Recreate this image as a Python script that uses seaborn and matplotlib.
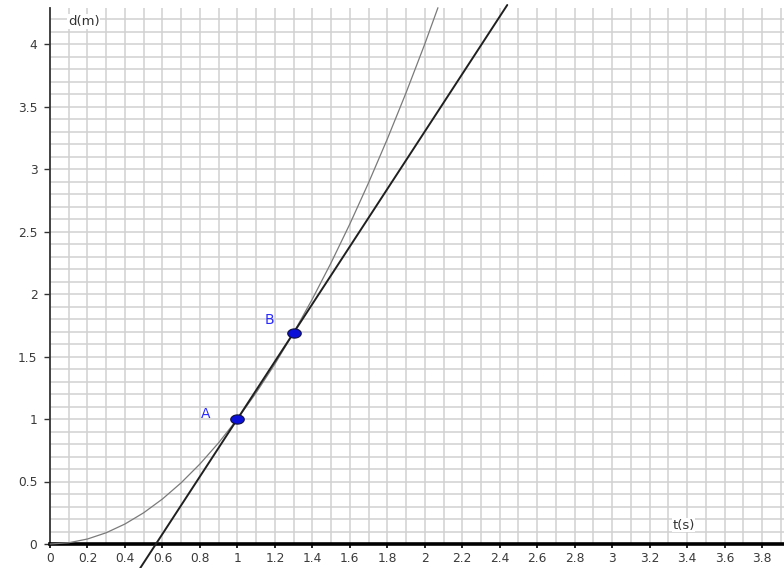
import numpy as np
import matplotlib
matplotlib.use("Agg")
import matplotlib.pyplot as plt
from matplotlib.ticker import MultipleLocator, FixedLocator
import seaborn as sns

sns.set_style("white")
plt.rcParams["font.family"] = ["DejaVu Sans"]

# distance curve d(t), sampled every 0.1 s
t_curve = [0.0, 0.1, 0.2, 0.3, 0.4, 0.5, 0.6, 0.7, 0.8, 0.9, 1.0, 1.1,
           1.2, 1.3, 1.4, 1.5, 1.6, 1.7, 1.8, 1.9, 2.0, 2.07]
d_curve = [0.0, 0.01, 0.04, 0.09, 0.16, 0.25, 0.36, 0.49, 0.64, 0.81, 1.0,
           1.21, 1.44, 1.69, 1.96, 2.25, 2.56, 2.89, 3.24, 3.61, 4.0, 4.29]

# the two marked points
point_names = ["A", "B"]
point_t = [1.0, 1.3]
point_d = [1.0, 1.69]

# secant through A and B, drawn across this t range
secant_t_range = [0.48, 2.44]

x_ticks = [0, 0.2, 0.4, 0.6, 0.8, 1, 1.2, 1.4, 1.6, 1.8, 2, 2.2, 2.4, 2.6,
           2.8, 3, 3.2, 3.4, 3.6, 3.8]
y_ticks = [0, 0.5, 1, 1.5, 2, 2.5, 3, 3.5, 4]

T_MAX, D_MAX = 3.92, 4.29

fig = plt.figure(figsize=(7.84, 5.68), dpi=100)
ax = fig.add_axes([0, 0, 1, 1])
ax.set_xlim(-50 / 187.4, 734 / 187.4)
ax.set_ylim(-24 / 125.0, 544 / 125.0)

# grid only in the first quadrant
grid_col = "#d2d2d2"
gx = np.round(np.arange(0.1, T_MAX, 0.1), 2)
gy = np.round(np.arange(0.1, D_MAX, 0.1), 2)
ax.vlines(gx, 0, D_MAX, colors=grid_col, lw=1.15, zorder=1)
ax.hlines(gy, 0, T_MAX, colors=grid_col, lw=1.15, zorder=1)

# axes through the origin
for s in ["top", "right"]:
    ax.spines[s].set_visible(False)
ax.spines["left"].set_position(("data", 0))
ax.spines["bottom"].set_position(("data", 0))
ax.spines["left"].set_bounds(0, D_MAX)
ax.spines["bottom"].set_bounds(0, T_MAX)
ax.spines["left"].set_color("#333333")
ax.spines["left"].set_linewidth(1.3)
ax.spines["bottom"].set_color("black")
ax.spines["bottom"].set_linewidth(2.6)
ax.spines["left"].set_zorder(3)
ax.spines["bottom"].set_zorder(3)

tick_font = 8.8
ax.xaxis.set_major_locator(FixedLocator(x_ticks))
ax.xaxis.set_minor_locator(MultipleLocator(0.1))
ax.yaxis.set_major_locator(FixedLocator(y_ticks))
ax.set_xticklabels([f"{v:g}" for v in x_ticks])
ax.set_yticklabels([f"{v:g}" for v in y_ticks])
ax.tick_params(axis="x", which="both", direction="out", length=3, width=1.2,
               color="black", labelsize=tick_font, labelcolor="#3a3a3a", pad=2.5)
ax.tick_params(axis="y", which="major", direction="out", length=4, width=1.0,
               color="#333333", labelsize=tick_font, labelcolor="#3a3a3a", pad=5)
ax.tick_params(left=True, bottom=True)
ax.tick_params(axis="x", which="minor", length=2.5)

# curve
sns.lineplot(x=t_curve, y=d_curve, ax=ax, color="#7a7a7a", lw=0.9,
             sort=False, estimator=None, zorder=4)

# secant line through A and B
slope = (point_d[1] - point_d[0]) / (point_t[1] - point_t[0])
st = np.array(secant_t_range)
sd = point_d[0] + slope * (st - point_t[0])
ax.plot(st, sd, color="#202020", lw=1.4, zorder=5, clip_on=False)

# points as small flattened ellipses
th = np.linspace(0, 2 * np.pi, 40)
ellipse = list(zip(np.cos(th), 0.68 * np.sin(th)))
sns.scatterplot(x=point_t, y=point_d, ax=ax, marker=ellipse, s=95,
                color="#0a10d8", edgecolor="#101040", linewidth=0.8, zorder=6)

label_pos = {"A": (0.83, 1.04), "B": (1.17, 1.79)}
for name in point_names:
    lx, ly = label_pos[name]
    ax.text(lx, ly, name, color="#2a2aff", fontsize=10, ha="center",
            va="center", zorder=7)

# axis names
ax.text(0.18, 4.18, "d(m)", fontsize=9.5, color="#333333", ha="center",
        va="center", zorder=7,
        bbox=dict(facecolor="white", edgecolor="none", pad=0.5))
ax.text(3.38, 0.15, "t(s)", fontsize=9.5, color="#333333", ha="center",
        va="center", zorder=7,
        bbox=dict(facecolor="white", edgecolor="none", pad=0.5))

fig.savefig("out.png", dpi=100)
